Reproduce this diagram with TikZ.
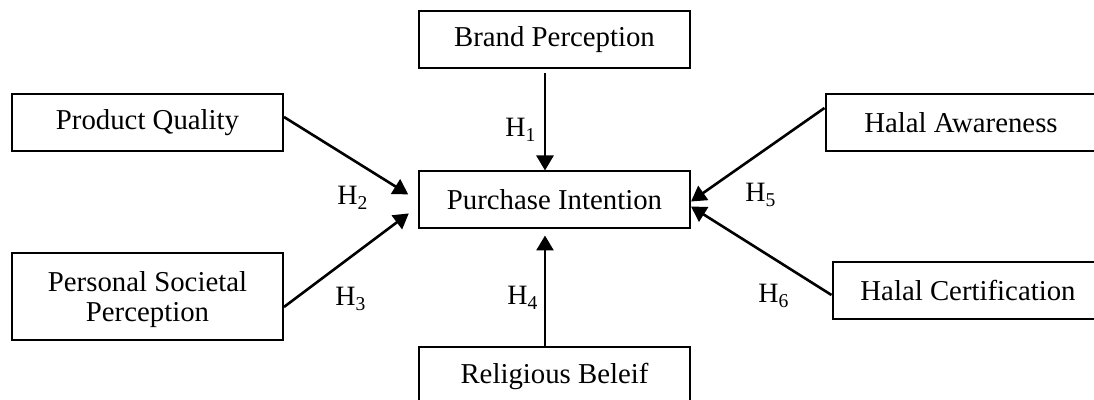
\documentclass[tikz,border=0pt]{standalone}
\usepackage{fontspec}
\setmainfont{Liberation Serif}
\usetikzlibrary{arrows.meta}
\tikzset{
  box/.style={draw, line width=1pt, inner sep=0pt, minimum width=135.5pt, minimum height=28.5pt,
    align=center, font=\fontsize{14.4}{14.5}\selectfont},
  arr/.style={line width=1.3pt, -{Triangle[width=8.5pt,length=7.5pt]}},
  hyp/.style={inner sep=0pt, anchor=base west, font=\fontsize{14}{16}\selectfont}
}
\begin{document}
\begin{tikzpicture}[x=0.5pt,y=-0.5pt]
\useasboundingbox (0,0) rectangle (1094,400);
\clip (0,0) rectangle (1094,400);
% boxes
\node[box] (brand) at (554.5,39.5) {Brand Perception};
\node[box] (purchase) at (554.5,200) {Purchase Intention};
\node[box] (relig) at (554.5,376) {Religious Beleif};
\node[box] (pq) at (147.5,122.5) {Product Quality};
\node[box, minimum height=43.5pt, text depth=0pt] (psp) at (147.5,296.5) {Personal Societal\\[0.5pt]Perception};
\node[box] (ha) at (961,122.5) {Halal Awareness};
\node[box] (hc) at (968,291) {Halal Certification};
% connectors
\draw[arr, shorten <=2pt] ([xshift=-4.75pt]brand.south) -- ([xshift=-4.75pt]purchase.north);
\draw[arr, shorten >=3pt] ([xshift=-4.75pt]relig.north) -- ([xshift=-4.75pt]purchase.south);
\draw[arr, shorten >=5.75pt] ([yshift=2.75pt]pq.east) -- ([yshift=-0.25pt]purchase.west);
\draw[arr, shorten >=5.75pt] ([yshift=-5.25pt]psp.east) -- ([yshift=-3.25pt]purchase.west);
\draw[arr] ([yshift=7.25pt]ha.west) -- ([yshift=-0.75pt]purchase.east);
\draw[arr] ([yshift=-2pt]hc.west) -- ([yshift=-3.25pt]purchase.east);
% labels
\node[hyp] (h1) at (505,137) {H\textsubscript{1}};
\node[hyp] (h2) at (337,205) {H\textsubscript{2}};
\node[hyp] (h3) at (335,306) {H\textsubscript{3}};
\node[hyp] (h4) at (507,305) {H\textsubscript{4}};
\node[hyp] (h5) at (745,202) {H\textsubscript{5}};
\node[hyp] (h6) at (758,303) {H\textsubscript{6}};
\end{tikzpicture}
\end{document}
